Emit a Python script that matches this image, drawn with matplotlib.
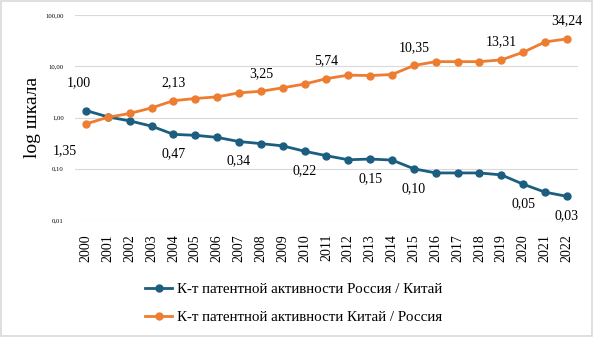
import matplotlib
matplotlib.use("Agg")
import matplotlib.pyplot as plt
from matplotlib.patches import Rectangle
from matplotlib.ticker import NullLocator

years = list(range(2000, 2023))
ru_cn = [1.37, 1.03, 0.86, 0.68, 0.47, 0.45, 0.41, 0.34, 0.31, 0.28, 0.22, 0.18,
         0.15, 0.155, 0.148, 0.10, 0.083, 0.083, 0.083, 0.076, 0.05, 0.035, 0.029]
cn_ru = [0.75, 1.01, 1.20, 1.54, 2.13, 2.35, 2.53, 3.03, 3.25, 3.80, 4.50, 5.74,
         6.70, 6.60, 6.90, 10.35, 12.3, 12.3, 12.3, 13.31, 18.8, 29.8, 34.24]

ru_label_years = [2000, 2004, 2007, 2010, 2013, 2015, 2020, 2022]
ru_label_texts = ["1,35", "0,47", "0,34", "0,22", "0,15", "0,10", "0,05", "0,03"]
cn_label_years = [2000, 2004, 2008, 2011, 2015, 2019, 2022]
cn_label_texts = ["1,00", "2,13", "3,25", "5,74", "10,35", "13,31", "34,24"]

ytick_vals = [0.01, 0.1, 1, 10, 100]
ytick_text = ["0,01", "0,10", "1,00", "10,00", "100,00"]

name_ru = "К-т патентной активности Россия / Китай"
name_cn = "К-т патентной активности Китай / Россия"

BLUE = "#1B5E80"
ORANGE = "#ED7D31"
SERIF = "Liberation Serif"

fig = plt.figure(figsize=(5.93, 3.37), dpi=100)
fig.patches.append(Rectangle((0.002, 0.003), 0.996, 0.994, transform=fig.transFigure,
                             fill=False, edgecolor="#D9D9D9", linewidth=1.2))
ax = fig.add_axes([0.1265, 0.347, 0.848, 0.6085])

l1, = ax.plot(years, ru_cn, color=BLUE, lw=2.0, marker="o", ms=5, label=name_ru)
l2, = ax.plot(years, cn_ru, color=ORANGE, lw=2.0, marker="o", ms=5, label=name_cn)

ax.set_yscale("log")
ax.set_ylim(0.01, 100)
ax.set_xlim(1999.5, 2022.5)
ax.yaxis.set_minor_locator(NullLocator())
ax.set_yticks(ytick_vals)
ax.set_yticklabels(ytick_text, fontsize=4.8, family=SERIF)
ax.set_xticks(years)
ax.set_xticklabels([str(y) for y in years], rotation=90, fontsize=10, family=SERIF)
ax.tick_params(axis="y", length=0, pad=8)
ax.tick_params(axis="x", length=0, pad=10)
ax.grid(True, axis="y", color="#D9D9D9", lw=0.8)
for s in ax.spines.values():
    s.set_visible(False)
ax.set_ylabel("log шкала", fontsize=14, family=SERIF)
ax.yaxis.set_label_coords(-0.068, 0.5)

for yr, txt in zip(ru_label_years, ru_label_texts):
    off = (-15, -29) if yr == 2000 else (0, -14)
    ax.annotate(txt, (yr, ru_cn[years.index(yr)]), textcoords="offset points",
                xytext=off, ha="center", va="center", fontsize=10, family=SERIF)
for yr, txt in zip(cn_label_years, cn_label_texts):
    off = (-5, 30) if yr == 2000 else (0, 13)
    ax.annotate(txt, (yr, cn_ru[years.index(yr)]), textcoords="offset points",
                xytext=off, ha="center", va="center", fontsize=10, family=SERIF)

fig.legend(handles=[l1, l2], loc="center", bbox_to_anchor=(0.495, 0.1), ncol=1,
           frameon=False, prop={"family": SERIF, "size": 10.8},
           handlelength=1.8, handletextpad=0.3, labelspacing=0.95)

fig.savefig("out.png", dpi=100)
